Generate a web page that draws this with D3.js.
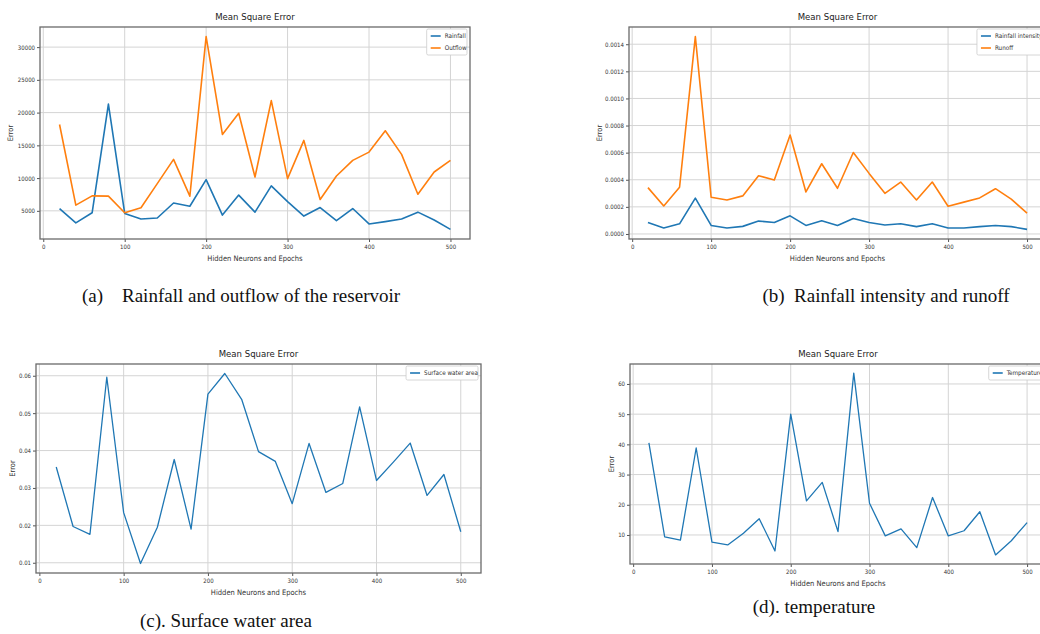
<!DOCTYPE html>
<html>
<head>
<meta charset="utf-8">
<script src="https://cdn.jsdelivr.net/npm/d3@7"></script>
<style>
  body { margin: 0; background: #fff; }
  svg { display: block; }
  .tick-label { font-family: "DejaVu Sans Condensed", "DejaVu Sans", sans-serif; font-stretch: condensed; fill: #333; }
  .caption { font-family: "Liberation Serif", "Times New Roman", serif; fill: #111; }
</style>
</head>
<body>
<div id="chart"></div>
<script>
// x values shared by every panel
var epochs = [20, 40, 60, 80, 100, 120, 140, 160, 180, 200, 220, 240, 260,
              280, 300, 320, 340, 360, 380, 400, 420, 440, 460, 480, 500];
var xTicks = [0, 100, 200, 300, 400, 500];

// (a) rainfall / outflow of reservoir
var rainfallMse = [5350, 3150, 4700, 21300, 4600, 3750, 3900, 6200, 5700, 9770, 4350, 7400, 4800,
                   8800, 6400, 4200, 5500, 3500, 5350, 3000, 3350, 3750, 4800, 3600, 2170];
var outflowMse = [18180, 5870, 7280, 7240, 4700, 5460, 9150, 12860, 7240, 31600, 16660, 19900, 10170,
                  21830, 9920, 15750, 6730, 10320, 12710, 13970, 17230, 13620, 7540, 10930, 12710];
var ticksA = [5000, 10000, 15000, 20000, 25000, 30000];

// (b) rainfall intensity / runoff
var intensityMse = [0.000085, 0.000044, 0.000075, 0.000264, 0.000063, 0.000044, 0.000056, 0.000095, 0.000085, 0.000134, 0.000063, 0.000097, 0.000063,
                    0.000114, 0.000085, 0.000066, 0.000075, 0.000054, 0.000075, 0.000044, 0.000044, 0.000054, 0.000063, 0.000054, 0.000034];
var runoffMse = [0.000342, 0.000207, 0.000345, 0.001456, 0.000271, 0.000251, 0.000281, 0.000430, 0.000398, 0.000730, 0.000310, 0.000518, 0.000337,
                 0.000601, 0.000447, 0.000300, 0.000383, 0.000251, 0.000383, 0.000205, 0.000235, 0.000266, 0.000334, 0.000257, 0.000154];
var ticksB = [0, 0.0002, 0.0004, 0.0006, 0.0008, 0.0010, 0.0012, 0.0014];

// (c) surface water area
var surfaceMse = [0.0356, 0.0197, 0.0176, 0.0596, 0.0234, 0.0098, 0.0195, 0.0376, 0.0190, 0.0551, 0.0606, 0.0537, 0.0397,
                  0.0371, 0.0258, 0.0419, 0.0288, 0.0312, 0.0517, 0.0320, 0.0369, 0.0420, 0.0280, 0.0336, 0.0183];
var ticksC = [0.01, 0.02, 0.03, 0.04, 0.05, 0.06];

// (d) temperature
var temperatureMse = [40.5, 9.4, 8.3, 38.8, 7.6, 6.7, 10.6, 15.4, 4.7, 50.0, 21.3, 27.4, 11.1,
                      63.6, 20.5, 9.7, 12.0, 5.8, 22.4, 9.7, 11.4, 17.7, 3.4, 8.1, 14.1];
var ticksD = [10, 20, 30, 40, 50, 60];

var blue = "#1f77b4", orange = "#ff7f0e";

var panels = [
  { box: [40, 27, 470, 239], yTicks: ticksA, fmt: d3.format("d"), lw: 1.6, ylab: 27,
    series: [{ name: "Rainfall", values: rainfallMse, color: blue }, { name: "Outflow", values: outflowMse, color: orange }],
    caption: "(a)\u2002\u2002Rainfall and outflow of the reservoir", capX: 241, capY: 302 },
  { box: [629, 27, 1046, 239], yTicks: ticksB, fmt: d3.format(".4f"), lw: 1.6, ylab: 27,
    series: [{ name: "Rainfall intensity", values: intensityMse, color: blue }, { name: "Runoff", values: runoffMse, color: orange }],
    caption: "(b)\u2002Rainfall intensity and runoff", capX: 886, capY: 302 },
  { box: [36, 364, 481, 573], yTicks: ticksC, fmt: d3.format(".2f"), lw: 1.3, ylab: 21,
    series: [{ name: "Surface water area", values: surfaceMse, color: blue }],
    caption: "(c). Surface water area", capX: 226, capY: 627 },
  { box: [630, 364, 1046, 564], yTicks: ticksD, fmt: d3.format("d"), lw: 1.3, ylab: 16,
    series: [{ name: "Temperature", values: temperatureMse, color: blue }],
    caption: "(d). temperature", capX: 814, capY: 613 }
];

var svg = d3.select("#chart").append("svg")
    .attr("width", 1040)
    .attr("height", 634);

panels.forEach(function (p) {
    var left = p.box[0], top = p.box[1], right = p.box[2], bottom = p.box[3];

    // matplotlib style 5% margins
    var xMin = d3.min(epochs), xMax = d3.max(epochs), xPad = (xMax - xMin) * 0.05;
    var all = [];
    p.series.forEach(function (s) { all = all.concat(s.values); });
    var yMin = d3.min(all), yMax = d3.max(all), yPad = (yMax - yMin) * 0.05;

    var x = d3.scaleLinear().domain([xMin - xPad, xMax + xPad]).range([left, right]);
    var y = d3.scaleLinear().domain([yMin - yPad, yMax + yPad]).range([bottom, top]);

    var g = svg.append("g");

    // grid
    g.selectAll(".vgrid").data(xTicks).join("line")
        .attr("x1", function (d) { return x(d); }).attr("x2", function (d) { return x(d); })
        .attr("y1", top).attr("y2", bottom)
        .attr("stroke", "#d4d4d4").attr("stroke-width", 1);
    g.selectAll(".hgrid").data(p.yTicks).join("line")
        .attr("x1", left).attr("x2", right)
        .attr("y1", function (d) { return y(d); }).attr("y2", function (d) { return y(d); })
        .attr("stroke", "#d4d4d4").attr("stroke-width", 1);

    // axes
    var xAxis = g.append("g")
        .attr("transform", "translate(0," + bottom + ")")
        .call(d3.axisBottom(x).tickValues(xTicks).tickSize(3).tickFormat(d3.format("d")));
    var yAxis = g.append("g")
        .attr("transform", "translate(" + left + ",0)")
        .call(d3.axisLeft(y).tickValues(p.yTicks).tickSize(3).tickFormat(p.fmt));
    [xAxis, yAxis].forEach(function (a) {
        a.select(".domain").remove();
        a.selectAll(".tick line").attr("stroke", "#555");
        a.selectAll(".tick text").attr("class", "tick-label").style("font-size", "6px");
    });
    xAxis.selectAll(".tick text").attr("y", 6);
    yAxis.selectAll(".tick text").attr("x", -5);

    // lines
    p.series.forEach(function (s) {
        var line = d3.line()
            .x(function (d, i) { return x(epochs[i]); })
            .y(function (d) { return y(d); });
        g.append("path")
            .datum(s.values)
            .attr("d", line)
            .attr("fill", "none")
            .attr("stroke", s.color)
            .attr("stroke-width", p.lw)
            .attr("stroke-linejoin", "round");
    });

    // frame
    g.append("rect")
        .attr("x", left).attr("y", top)
        .attr("width", right - left).attr("height", bottom - top)
        .attr("fill", "none").attr("stroke", "#6a6a6a").attr("stroke-width", 1.3);

    // title and axis labels
    var cx = (left + right) / 2;
    g.append("text")
        .attr("class", "tick-label")
        .attr("x", cx).attr("y", top - 7)
        .attr("text-anchor", "middle")
        .style("font-size", "9.5px")
        .style("fill", "#222")
        .text("Mean Square Error");
    g.append("text")
        .attr("class", "tick-label")
        .attr("x", cx).attr("y", bottom + 22)
        .attr("text-anchor", "middle")
        .style("font-size", "7.5px")
        .text("Hidden Neurons and Epochs");
    g.append("text")
        .attr("class", "tick-label")
        .attr("transform", "translate(" + (left - p.ylab) + "," + ((top + bottom) / 2) + ") rotate(-90)")
        .attr("text-anchor", "middle")
        .style("font-size", "7.5px")
        .style("font-stretch", "normal")
        .text("Error");

    // legend
    var leg = g.append("g");
    var legBox = leg.append("rect")
        .attr("fill", "#fff").attr("stroke", "#ccc").attr("stroke-width", 0.8).attr("rx", 1.5);
    var items = leg.selectAll(".item").data(p.series).join("g")
        .attr("transform", function (d, i) { return "translate(0," + (i * 12) + ")"; });
    items.append("line")
        .attr("x1", 4).attr("x2", 14).attr("y1", 7).attr("y2", 7)
        .attr("stroke", function (d) { return d.color; }).attr("stroke-width", 1.6);
    items.append("text")
        .attr("class", "tick-label")
        .attr("x", 18).attr("y", 9)
        .style("font-size", "6.3px")
        .text(function (d) { return d.name; });
    var bb = leg.node().getBBox();
    var lw = bb.width + 4, lh = p.series.length * 12 + 2;
    legBox.attr("x", 0).attr("y", 0).attr("width", lw).attr("height", lh);
    leg.attr("transform", "translate(" + (right - lw - 3) + "," + (top + 2) + ")");

    // caption
    svg.append("text")
        .attr("class", "caption")
        .attr("x", p.capX).attr("y", p.capY)
        .attr("text-anchor", "middle")
        .style("font-size", "19px")
        .text(p.caption);
});
</script>
</body>
</html>
